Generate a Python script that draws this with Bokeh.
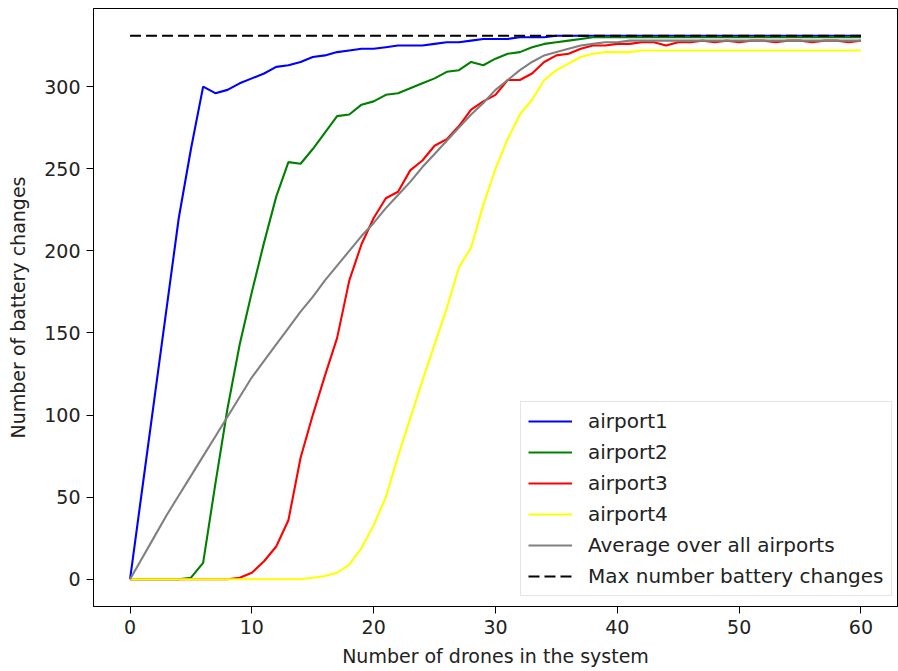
from bokeh.plotting import figure
from bokeh.models import Range1d, Legend, LegendItem, FixedTicker
from bokeh.embed import file_html
from bokeh.resources import INLINE

# ---- data ----
drones = list(range(61))

airport1 = [0, 55, 110, 165, 220, 262, 300, 296, 298, 302, 305, 308, 312, 313, 315, 318,
            319, 321, 322, 323, 323, 324, 325, 325, 325, 326, 327, 327, 328, 329, 329, 329,
            330, 330, 330, 331, 331, 331, 331, 331, 331, 331, 331, 331, 331, 331, 331, 331,
            331, 331, 331, 331, 331, 331, 331, 331, 331, 331, 331, 331, 331]

airport2 = [0, 0, 0, 0, 0, 1, 10, 58, 104, 143, 175, 205, 233, 254, 253, 262,
            272, 282, 283, 289, 291, 295, 296, 299, 302, 305, 309, 310, 315, 313, 317, 320,
            321, 324, 326, 327, 328, 329, 330, 330, 330, 330, 330, 330, 330, 330, 330, 330,
            330, 330, 330, 330, 330, 330, 330, 330, 330, 330, 330, 330, 330]

airport3 = [0, 0, 0, 0, 0, 0, 0, 0, 0, 1, 4, 11, 20, 36, 74, 100,
            124, 147, 182, 204, 220, 232, 236, 249, 255, 264, 268, 276, 286, 291, 295, 304,
            304, 308, 315, 319, 320, 323, 325, 325, 326, 326, 327, 327, 325, 327, 327, 328,
            327, 328, 327, 328, 328, 327, 328, 328, 327, 328, 328, 327, 328]

airport4 = [0, 0, 0, 0, 0, 0, 0, 0, 0, 0, 0, 0, 0, 0, 0, 1,
            2, 4, 9, 19, 33, 50, 75, 98, 121, 143, 165, 190, 202, 228, 250, 268,
            283, 292, 304, 310, 314, 318, 320, 321, 321, 321, 322, 322, 322, 322, 322, 322,
            322, 322, 322, 322, 322, 322, 322, 322, 322, 322, 322, 322, 322]

average = [0, 13, 26, 39, 51, 63, 75, 87, 99, 111, 123, 133, 143, 153, 163, 172,
           182, 191, 200, 209, 217, 226, 234, 242, 251, 259, 267, 275, 283, 290, 298, 304,
           310, 315, 319, 321, 323, 325, 326, 327, 327, 328, 328, 328, 328, 328, 328, 328,
           328, 328, 328, 328, 328, 328, 328, 328, 328, 328, 328, 328, 328]

max_x = [0, 60]
max_y = [331, 331]

x_ticks = [0, 10, 20, 30, 40, 50, 60]
y_ticks = [0, 50, 100, 150, 200, 250, 300]

labels = ["airport1", "airport2", "airport3", "airport4",
          "Average over all airports", "Max number battery changes"]
colors = ["#0000ff", "#008000", "#ff0000", "#ffff00", "#808080", "#000000"]

FONT = "DejaVu Sans"
FS = "19px"

p = figure(width=898, height=671, output_backend="svg", toolbar_location=None,
           x_range=Range1d(-3, 63), y_range=Range1d(-16.55, 347.55),
           min_border_left=93, min_border_right=1, min_border_top=8, min_border_bottom=65)

p.xgrid.visible = False
p.ygrid.visible = False
p.outline_line_color = "black"
p.outline_line_width = 1
p.background_fill_color = "white"
p.border_fill_color = "white"

lw = 2.1
series = [airport1, airport2, airport3, airport4, average]
renderers = []
for ys, c in zip(series, colors[:5]):
    r = p.line(drones, ys, line_color=c, line_width=lw)
    renderers.append(r)
r_max = p.line(max_x, max_y, line_color="black", line_width=lw, line_dash="11 5")
renderers.append(r_max)

for ax, ticks, label in ((p.xaxis[0], x_ticks, "Number of drones in the system"),
                         (p.yaxis[0], y_ticks, "Number of battery changes")):
    ax.ticker = FixedTicker(ticks=ticks)
    ax.axis_label = label
    ax.axis_label_text_font = FONT
    ax.axis_label_text_font_size = FS
    ax.axis_label_text_font_style = "normal"
    ax.axis_label_text_color = "#222222"
    ax.major_label_text_font = FONT
    ax.major_label_text_font_size = FS
    ax.major_label_text_color = "#222222"
    ax.major_tick_out = 7
    ax.major_tick_in = 0
    ax.minor_tick_out = 0
    ax.minor_tick_in = 0
    ax.major_label_standoff = 6
    ax.axis_line_color = "black"
    ax.major_tick_line_color = "black"

p.xaxis[0].axis_label_standoff = 8
p.yaxis[0].axis_label_standoff = 12

legend = Legend(items=[LegendItem(label=l, renderers=[r]) for l, r in zip(labels, renderers)],
                location=(427, 10))
legend.label_text_font = FONT
legend.label_text_font_size = "20px"
legend.label_text_color = "#222222"
legend.glyph_width = 44
legend.glyph_height = 20
legend.label_height = 20
legend.spacing = 7
legend.padding = 7
legend.label_standoff = 16
legend.border_line_color = "#cccccc"
legend.border_line_width = 1
legend.background_fill_color = "white"
legend.background_fill_alpha = 0.8
p.add_layout(legend)

open("out.html", "w").write(file_html(p, INLINE))
